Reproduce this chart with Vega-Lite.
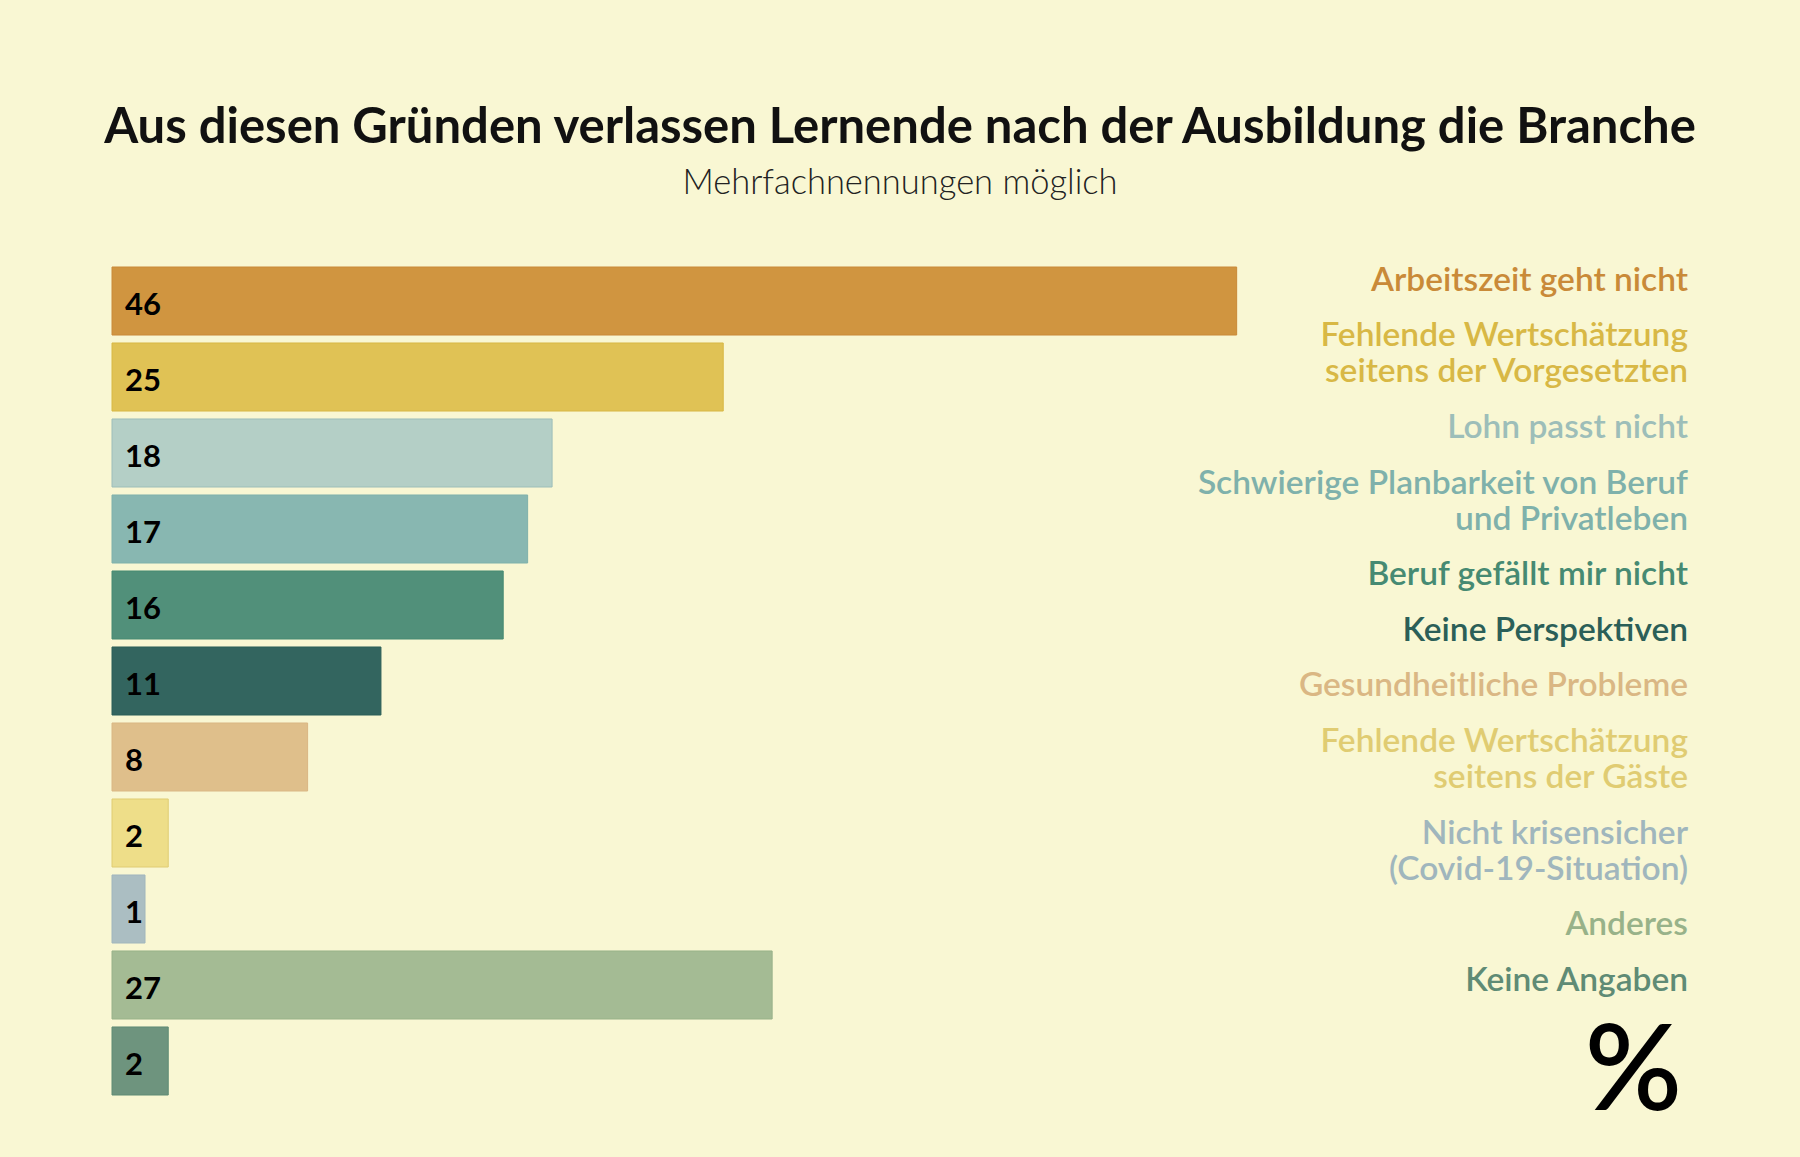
{
  "$schema": "https://vega.github.io/schema/vega-lite/v6.json",
  "autosize": {"type": "none"},
  "width": 1576,
  "height": 828,
  "padding": {"left": 112, "top": 267, "right": 112, "bottom": 62},
  "background": "#F9F7D3",
  "title": {
    "text": "Aus diesen Gründen verlassen Lernende nach der Ausbildung die Branche",
    "subtitle": "Mehrfachnennungen möglich",
    "anchor": "middle",
    "font": "Lato",
    "fontSize": 49,
    "fontWeight": "bold",
    "color": "#111111",
    "subtitleFont": "Lato",
    "subtitleFontSize": 34.5,
    "subtitleFontWeight": 300,
    "subtitleColor": "#222222",
    "subtitlePadding": 14,
    "offset": 64
  },
  "config": {
    "view": {"stroke": null},
    "text": {"font": "Lato"}
  },
  "data": {
    "values": [
      {"Grund": "Arbeitszeit geht nicht", "Anteil": 46},
      {"Grund": "Fehlende Wertschätzung\nseitens der Vorgesetzten", "Anteil": 25},
      {"Grund": "Lohn passt nicht", "Anteil": 18},
      {"Grund": "Schwierige Planbarkeit von Beruf\nund Privatleben", "Anteil": 17},
      {"Grund": "Beruf gefällt mir nicht", "Anteil": 16},
      {"Grund": "Keine Perspektiven", "Anteil": 11},
      {"Grund": "Gesundheitliche Probleme", "Anteil": 8},
      {"Grund": "Fehlende Wertschätzung\nseitens der Gäste", "Anteil": 2.3},
      {"Grund": "Nicht krisensicher\n(Covid-19-Situation)", "Anteil": 1.35},
      {"Grund": "Anderes", "Anteil": 27},
      {"Grund": "Keine Angaben", "Anteil": 2.3}
    ]
  },
  "encoding": {
    "y": {
      "field": "Grund",
      "type": "nominal",
      "sort": null,
      "axis": null,
      "scale": {"paddingInner": 0.105, "paddingOuter": 0}
    }
  },
  "layer": [
    {
      "mark": {"type": "bar", "strokeWidth": 1},
      "encoding": {
        "x": {
          "field": "Anteil",
          "type": "quantitative",
          "axis": null,
          "scale": {"domain": [0, 64.46], "nice": false}
        },
        "stroke": {
          "field": "Grund",
          "type": "nominal",
          "sort": null,
          "legend": null,
          "scale": {
            "range": [
              "#C98A38",
              "#D8B845",
              "#9DBEB9",
              "#7FB1AB",
              "#468A72",
              "#2B5F58",
              "#DAB784",
              "#E0CC72",
              "#A0B6BD",
              "#98B289",
              "#5F8B75"
            ]
          }
        },
        "color": {
          "field": "Grund",
          "type": "nominal",
          "sort": null,
          "scale": {
            "range": [
              "#D09540",
              "#E0C255",
              "#B4CFC6",
              "#88B7B1",
              "#51907A",
              "#33655F",
              "#DFBF8B",
              "#EEDE89",
              "#ABBEC2",
              "#A4BB94",
              "#6E947E"
            ]
          },
          "legend": {
            "orient": "none",
            "legendX": 1576,
            "legendY": -3,
            "direction": "vertical",
            "title": null,
            "padding": 0,
            "labelFont": "Lato",
            "labelFontSize": 33.5,
            "labelFontWeight": 600,
            "labelAlign": "right",
            "labelBaseline": "middle",
            "labelLimit": 800,
            "labelExpr": "split(datum.label, '\\n')",
            "rowPadding": 20.6,
            "symbolOpacity": 0,
            "symbolStrokeWidth": 0,
            "encode": {
              "symbols": {"update": {"x": {"value": -600}}},
              "labels": {
                "update": {
                  "x": {"value": 0},
                  "fill": {"scale": "stroke", "field": "value"},
                  "lineHeight": {"value": 36}
                }
              }
            }
          }
        }
      }
    },
    {
      "mark": {
        "type": "text",
        "align": "left",
        "baseline": "middle",
        "dx": 13,
        "dy": 5,
        "fontSize": 31,
        "fontWeight": "bold",
        "color": "#000000"
      },
      "encoding": {
        "x": {"datum": 0},
        "text": {"field": "Anteil", "type": "quantitative", "format": ".0f"}
      }
    },
    {
      "data": {"values": [{"Zeichen": "%"}]},
      "mark": {
        "type": "text",
        "align": "right",
        "baseline": "alphabetic",
        "dx": -6,
        "dy": 15,
        "fontSize": 120,
        "fontWeight": 600,
        "color": "#000000"
      },
      "encoding": {
        "x": {"value": "width"},
        "y": {"value": "height"},
        "text": {"field": "Zeichen", "type": "nominal"}
      }
    }
  ]
}
